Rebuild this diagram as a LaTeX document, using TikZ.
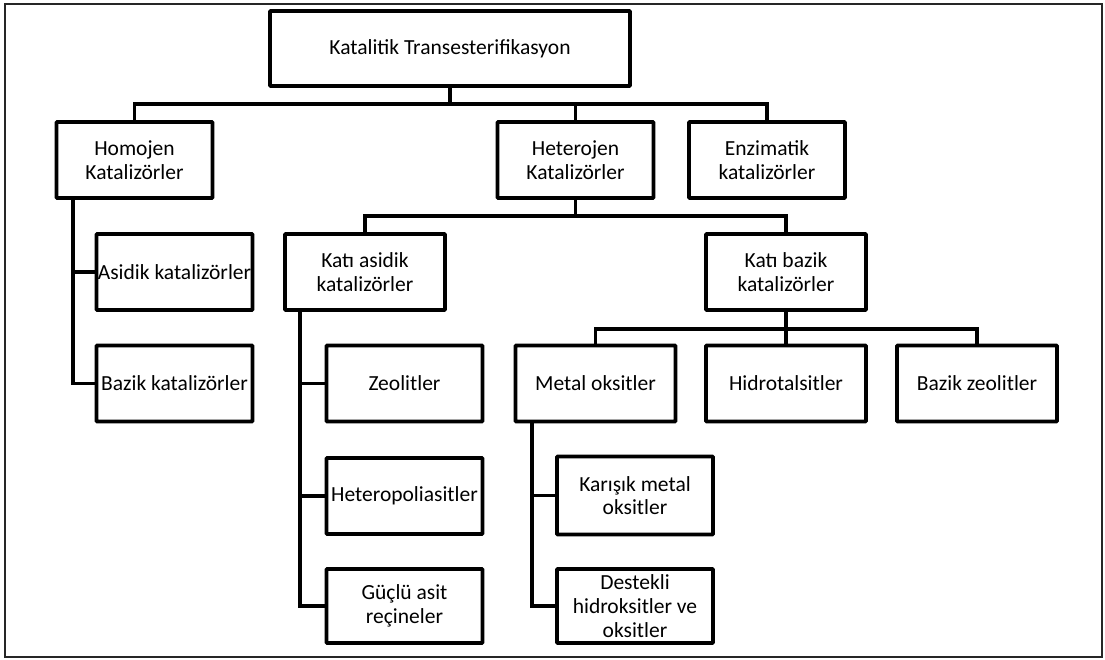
\documentclass[tikz,border=0pt]{standalone}
\usepackage{fontspec}
\setmainfont{Carlito}
\usepackage{tikz}
\usetikzlibrary{positioning, calc}

\begin{document}
\begin{tikzpicture}[
        catbox/.style={
            rectangle, draw=black, line width=2.8pt, fill=white,
            rounded corners=0.6pt,
            minimum width=3.9cm, minimum height=1.9cm,
            align=center, inner sep=0pt,
            font=\fontsize{15.3}{16.8}\selectfont
        },
        link/.style={draw=black, line width=2.8pt},
        frame/.style={draw=black!85, line width=1.3pt}
    ]

        \useasboundingbox (0,0) rectangle (27.625,-16.475);
        \draw[frame] (0.125,-0.1) rectangle (27.55,-16.425);

        % Root
        \node[catbox, minimum width=9.0cm, minimum height=1.875cm] (root) at (11.25, -1.2125) {Katalitik Transesterifikasyon};

        % First level
        \node[catbox] (homojen) at (3.3625, -4.0) {Homojen\\Katalizörler};
        \node[catbox] (heterojen) at (14.3875, -4.0) {Heterojen\\Katalizörler};
        \node[catbox] (enzim) at (19.175, -4.0) {Enzimatik\\katalizörler};

        % Homojen children
        \node[catbox] (asidik) at (4.3625, -6.8) {Asidik katalizörler};
        \node[catbox] (bazik) at (4.3625, -9.5875) {Bazik katalizörler};

        % Heterojen children
        \node[catbox, minimum width=4.0cm] (katiasit) at (9.125, -6.8) {Katı asidik\\katalizörler};
        \node[catbox, minimum width=4.0cm] (katibaz) at (19.65, -6.8) {Katı bazik\\katalizörler};

        % Katı asidik children
        \node[catbox] (zeolit) at (10.1125, -9.5875) {Zeolitler};
        \node[catbox] (hpa) at (10.1125, -12.4) {Heteropoliasitler};
        \node[catbox, minimum height=1.85cm] (recine) at (10.1125, -15.15) {Güçlü asit\\reçineler};

        % Katı bazik children
        \node[catbox, minimum width=4.0cm] (metal) at (14.8875, -9.5875) {Metal oksitler};
        \node[catbox, minimum width=4.0cm] (hidro) at (19.65, -9.5875) {Hidrotalsitler};
        \node[catbox, minimum width=4.0cm] (bazzeo) at (24.425, -9.5875) {Bazik zeolitler};

        % Metal oksitler children
        \node[catbox, minimum height=1.95cm] (karisik) at (15.875, -12.3875) {Karışık metal\\oksitler};
        \node[catbox, minimum height=1.85cm] (destek) at (15.875, -15.15) {Destekli\\hidroksitler ve\\oksitler};

        % Root -> first level
        \draw[link] (root.south) -- ++(0,-0.4) coordinate (rootbus);
        \draw[link] (rootbus) -| (homojen.north);
        \draw[link] (rootbus) -| (heterojen.north);
        \draw[link] (rootbus) -| (enzim.north);

        % Heterojen -> katı
        \draw[link] (heterojen.south) -- ++(0,-0.4) coordinate (hetbus);
        \draw[link] (hetbus) -| (katiasit.north);
        \draw[link] (hetbus) -| (katibaz.north);

        % Katı bazik -> oksitler
        \draw[link] (katibaz.south) -- ++(0,-0.42) coordinate (bazbus);
        \draw[link] (bazbus) -| (metal.north);
        \draw[link] (bazbus) -| (hidro.north);
        \draw[link] (bazbus) -| (bazzeo.north);

        % Side trunks
        \coordinate (homtrunk) at ($(homojen.south west)+(0.45,0)$);
        \draw[link] (homtrunk) |- (asidik.west);
        \draw[link] (homtrunk) |- (bazik.west);

        \coordinate (asttrunk) at ($(katiasit.south west)+(0.43,0)$);
        \draw[link] (asttrunk) |- (zeolit.west);
        \draw[link] (asttrunk) |- (hpa.west);
        \draw[link] (asttrunk) |- (recine.west);

        \coordinate (mettrunk) at ($(metal.south west)+(0.45,0)$);
        \draw[link] (mettrunk) |- (karisik.west);
        \draw[link] (mettrunk) |- (destek.west);

    \end{tikzpicture}
\end{document}
